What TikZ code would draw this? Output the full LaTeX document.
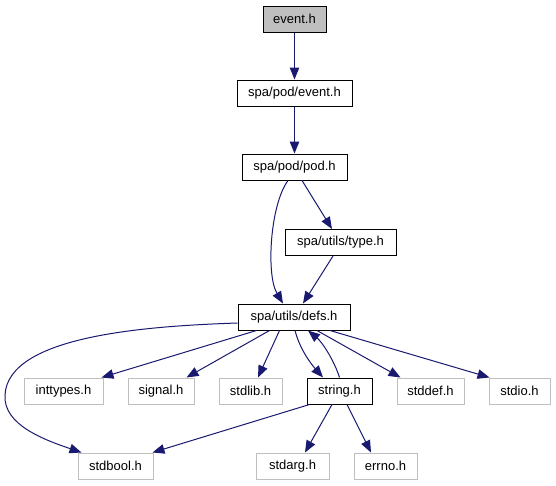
\documentclass[tikz,border=0pt]{standalone}
\usepackage{fontspec}
\setmainfont{Liberation Sans}
\usetikzlibrary{arrows.meta}
\definecolor{edgeblue}{HTML}{191970}
\definecolor{lgrey}{HTML}{BFBFBF}
\begin{document}
\begin{tikzpicture}[x=1pt,y=-1pt,
  box/.style={draw=black,line width=1pt,minimum height=26pt,inner sep=0pt,font=\fontsize{13}{15}\selectfont},
  gbox/.style={box,draw=lgrey},
  edge/.style={draw=edgeblue,line width=1pt,-{Triangle[length=12pt,width=9.5pt]}}]
\useasboundingbox (0,0) rectangle (556,485);
% nodes
\node[box,fill=lgrey,minimum width=63pt] (event) at (294.5,19) {event.h};
\node[box,minimum width=115pt] (podevent) at (294.5,93) {spa/pod/event.h};
\node[box,minimum width=105pt] (pod) at (294.5,167) {spa/pod/pod.h};
\node[box,minimum width=111pt] (type) at (340.5,242.5) {spa/utils/type.h};
\node[box,minimum width=112pt] (defs) at (294,317) {spa/utils/defs.h};
\node[gbox,minimum width=79pt] (inttypes) at (63.5,391) {inttypes.h};
\node[gbox,minimum width=66pt] (signal) at (161,391) {signal.h};
\node[gbox,minimum width=63pt] (stdlib) at (250.5,391) {stdlib.h};
\node[box,minimum width=65pt] (string) at (339.5,391) {string.h};
\node[gbox,minimum width=67pt] (stddef) at (430.5,391) {stddef.h};
\node[gbox,minimum width=61pt] (stdio) at (519.5,391) {stdio.h};
\node[gbox,minimum width=75pt] (stdbool) at (115.5,466) {stdbool.h};
\node[gbox,minimum width=73pt] (stdarg) at (292.5,466) {stdarg.h};
\node[gbox,minimum width=63pt] (errno) at (385.5,466) {errno.h};
% edges
\draw[edge] (event.south) -- (podevent.north);
\draw[edge] (podevent.south) -- (pod.north);
\draw[edge] ([xshift=-6.5pt]pod.south) .. controls (270,205) and (266,275) .. ([xshift=-11pt]defs.north);
\draw[edge] ([xshift=7.5pt]pod.south) -- ([xshift=-8.5pt]type.north);
\draw[edge] ([xshift=-7.5pt]type.south) -- ([xshift=9pt]defs.north);
\draw[edge] ([yshift=-6pt]defs.west) .. controls (150,326) and (8,335) .. (5,395) coordinate (bend)
  .. controls (3,425) and (45,440) .. ([xshift=4pt]stdbool.north west);
\draw[edge] ([xshift=19pt]defs.south west) -- ([xshift=-2pt]inttypes.north east);
\draw[edge] ([xshift=32pt]defs.south west) -- ([xshift=-8pt]signal.north east);
\draw[edge] ([xshift=42pt]defs.south west) -- ([xshift=7.5pt]stdlib.north);
\draw[edge] ([xshift=1pt]defs.south) .. controls (300,350) and (312,365) .. ([xshift=-16.5pt]string.north);
\draw[edge] (string.north) .. controls (334,360) and (322,342) .. ([xshift=14pt]defs.south);
\draw[edge] ([xshift=23pt]defs.south) -- ([xshift=4pt]stddef.north west);
\draw[edge] ([xshift=36pt]defs.south) -- ([xshift=1pt]stdio.north west);
\draw[edge] ([xshift=3pt]string.south west) -- ([xshift=-1pt]stdbool.north east);
\draw[edge] ([xshift=-7.5pt]string.south) -- ([xshift=12.5pt]stdarg.north);
\draw[edge] ([xshift=7.5pt]string.south) -- ([xshift=-14.5pt]errno.north);
\end{tikzpicture}
\end{document}
